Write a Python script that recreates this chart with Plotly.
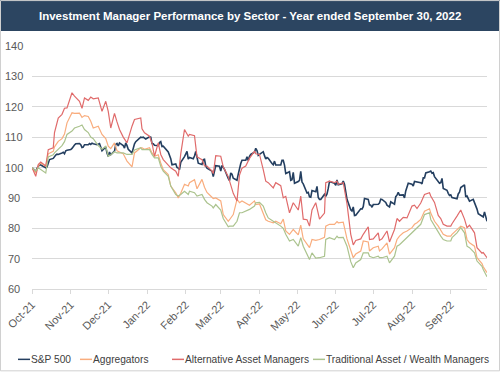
import plotly.graph_objects as go

title_text = "Investment Manager Performance by Sector - Year ended September 30, 2022"
series_names = ["S&P 500", "Aggregators", "Alternative Asset Managers", "Traditional Asset / Wealth Managers"]
series_colors = ["#243F60", "#F9AD7E", "#E06B6B", "#ABC38E"]
y_ticks = [60, 70, 80, 90, 100, 110, 120, 130, 140]

sp_dates = [
    "2021-10-01","2021-10-04","2021-10-05","2021-10-06","2021-10-07","2021-10-08","2021-10-11","2021-10-12","2021-10-13","2021-10-14",
    "2021-10-15","2021-10-18","2021-10-19","2021-10-20","2021-10-21","2021-10-22","2021-10-25","2021-10-26","2021-10-27","2021-10-28",
    "2021-10-29","2021-11-01","2021-11-02","2021-11-03","2021-11-04","2021-11-05","2021-11-08","2021-11-09","2021-11-10","2021-11-11",
    "2021-11-12","2021-11-15","2021-11-16","2021-11-17","2021-11-18","2021-11-19","2021-11-22","2021-11-23","2021-11-24","2021-11-26",
    "2021-11-29","2021-11-30","2021-12-01","2021-12-02","2021-12-03","2021-12-06","2021-12-07","2021-12-08","2021-12-09","2021-12-10",
    "2021-12-13","2021-12-14","2021-12-15","2021-12-16","2021-12-17","2021-12-20","2021-12-21","2021-12-22","2021-12-23","2021-12-27",
    "2021-12-28","2021-12-29","2021-12-30","2021-12-31","2022-01-03","2022-01-04","2022-01-05","2022-01-06","2022-01-07","2022-01-10",
    "2022-01-11","2022-01-12","2022-01-13","2022-01-14","2022-01-18","2022-01-19","2022-01-20","2022-01-21","2022-01-24","2022-01-25",
    "2022-01-26","2022-01-27","2022-01-28","2022-01-31","2022-02-01","2022-02-02","2022-02-03","2022-02-04","2022-02-07","2022-02-08",
    "2022-02-09","2022-02-10","2022-02-11","2022-02-14","2022-02-15","2022-02-16","2022-02-17","2022-02-18","2022-02-22","2022-02-23",
    "2022-02-24","2022-02-25","2022-02-28","2022-03-01","2022-03-02","2022-03-03","2022-03-04","2022-03-07","2022-03-08","2022-03-09",
    "2022-03-10","2022-03-11","2022-03-14","2022-03-15","2022-03-16","2022-03-17","2022-03-18","2022-03-21","2022-03-22","2022-03-23",
    "2022-03-24","2022-03-25","2022-03-28","2022-03-29","2022-03-30","2022-03-31","2022-04-01","2022-04-04","2022-04-05","2022-04-06",
    "2022-04-07","2022-04-08","2022-04-11","2022-04-12","2022-04-13","2022-04-14","2022-04-18","2022-04-19","2022-04-20","2022-04-21",
    "2022-04-22","2022-04-25","2022-04-26","2022-04-27","2022-04-28","2022-04-29","2022-05-02","2022-05-03","2022-05-04","2022-05-05",
    "2022-05-06","2022-05-09","2022-05-10","2022-05-11","2022-05-12","2022-05-13","2022-05-16","2022-05-17","2022-05-18","2022-05-19",
    "2022-05-20","2022-05-23","2022-05-24","2022-05-25","2022-05-26","2022-05-27","2022-05-31","2022-06-01","2022-06-02","2022-06-03",
    "2022-06-06","2022-06-07","2022-06-08","2022-06-09","2022-06-10","2022-06-13","2022-06-14","2022-06-15","2022-06-16","2022-06-17",
    "2022-06-21","2022-06-22","2022-06-23","2022-06-24","2022-06-27","2022-06-28","2022-06-29","2022-06-30","2022-07-01","2022-07-05",
    "2022-07-06","2022-07-07","2022-07-08","2022-07-11","2022-07-12","2022-07-13","2022-07-14","2022-07-15","2022-07-18","2022-07-19",
    "2022-07-20","2022-07-21","2022-07-22","2022-07-25","2022-07-26","2022-07-27","2022-07-28","2022-07-29","2022-08-01","2022-08-02",
    "2022-08-03","2022-08-04","2022-08-05","2022-08-08","2022-08-09","2022-08-10","2022-08-11","2022-08-12","2022-08-15","2022-08-16",
    "2022-08-17","2022-08-18","2022-08-19","2022-08-22","2022-08-23","2022-08-24","2022-08-25","2022-08-26","2022-08-29","2022-08-30",
    "2022-08-31","2022-09-01","2022-09-02","2022-09-06","2022-09-07","2022-09-08","2022-09-09","2022-09-12","2022-09-13","2022-09-14",
    "2022-09-15","2022-09-16","2022-09-19","2022-09-20","2022-09-21","2022-09-22","2022-09-23","2022-09-26","2022-09-27","2022-09-28",
    "2022-09-29","2022-09-30",
]
sp500 = [
    100.0, 98.7, 99.7, 100.2, 101.0, 100.8, 100.1, 99.9, 100.2, 101.9,
    102.6, 103.0, 103.7, 104.1, 104.4, 104.3, 104.8, 105.0, 104.5, 105.5,
    105.7, 105.9, 106.3, 107.0, 107.4, 107.8, 107.9, 107.5, 106.6, 106.7,
    107.5, 107.5, 107.9, 107.6, 108.0, 107.8, 107.5, 107.7, 107.9, 105.5,
    106.8, 104.8, 103.6, 105.1, 104.2, 105.4, 107.6, 107.9, 107.1, 108.1,
    107.2, 106.4, 108.1, 107.2, 106.0, 104.8, 106.7, 107.8, 108.5, 110.0,
    109.9, 110.0, 109.7, 109.4, 110.1, 110.0, 107.9, 107.8, 107.3, 107.2,
    108.2, 108.5, 106.9, 107.0, 105.1, 104.0, 102.9, 100.9, 101.2, 100.0,
    99.8, 99.3, 101.7, 103.6, 104.3, 105.3, 102.8, 103.3, 102.9, 103.8,
    105.3, 103.4, 101.4, 101.0, 102.6, 102.7, 100.5, 99.8, 98.8, 97.0,
    98.4, 100.6, 100.4, 98.8, 100.7, 100.1, 99.4, 96.4, 95.7, 98.2,
    97.8, 96.5, 95.8, 97.8, 100.0, 101.3, 102.4, 102.4, 103.5, 102.3,
    103.7, 104.3, 105.0, 106.3, 105.6, 104.0, 104.3, 105.2, 103.9, 102.8,
    103.3, 103.0, 101.3, 100.9, 102.1, 100.8, 100.8, 102.4, 102.4, 100.8,
    98.0, 98.6, 95.8, 96.0, 98.4, 94.8, 95.4, 95.8, 98.7, 95.2,
    94.6, 91.6, 91.8, 90.3, 90.2, 92.4, 92.0, 93.8, 90.1, 89.5,
    89.5, 91.2, 90.5, 91.3, 93.1, 95.4, 94.8, 94.1, 95.9, 94.3,
    94.6, 95.5, 94.5, 92.2, 89.5, 86.1, 85.7, 87.0, 84.2, 84.3,
    86.4, 86.3, 87.1, 89.8, 89.5, 87.7, 87.6, 86.9, 87.8, 87.9,
    88.3, 89.6, 89.5, 88.5, 87.6, 87.3, 87.0, 88.7, 87.9, 90.4,
    90.9, 91.8, 90.9, 91.0, 90.0, 92.3, 93.5, 94.8, 94.5, 93.9,
    95.4, 95.3, 95.1, 95.0, 94.6, 96.6, 96.6, 98.2, 98.6, 98.8,
    98.1, 98.3, 97.0, 95.0, 94.8, 95.0, 96.4, 93.1, 92.5, 91.5,
    90.8, 91.0, 90.1, 89.7, 91.3, 91.9, 93.4, 94.3, 90.3, 90.6,
    89.5, 88.9, 89.5, 88.5, 87.0, 86.3, 84.8, 83.9, 83.7, 85.4,
    83.6, 82.3,
]

sector_dates = [
    "2021-10-01","2021-10-04","2021-10-06","2021-10-08","2021-10-12","2021-10-14","2021-10-18","2021-10-19","2021-10-22","2021-10-25",
    "2021-10-27","2021-10-29","2021-11-02","2021-11-04","2021-11-08","2021-11-10","2021-11-12","2021-11-15","2021-11-17","2021-11-19",
    "2021-11-23","2021-11-26","2021-11-29","2021-12-01","2021-12-03","2021-12-06","2021-12-08","2021-12-10","2021-12-13","2021-12-16",
    "2021-12-20","2021-12-22","2021-12-27","2021-12-28","2021-12-30","2022-01-03","2022-01-05","2022-01-07","2022-01-10","2022-01-12",
    "2022-01-14","2022-01-18","2022-01-20","2022-01-24","2022-01-26","2022-01-28","2022-01-31","2022-02-03","2022-02-04","2022-02-08",
    "2022-02-10","2022-02-14","2022-02-16","2022-02-18","2022-02-22","2022-02-23","2022-02-25","2022-03-01","2022-03-03","2022-03-07",
    "2022-03-08","2022-03-11","2022-03-14","2022-03-16","2022-03-18","2022-03-21","2022-03-24","2022-03-28","2022-03-29","2022-04-01",
    "2022-04-04","2022-04-06","2022-04-08","2022-04-12","2022-04-14","2022-04-18","2022-04-20","2022-04-22","2022-04-25","2022-04-28",
    "2022-05-02","2022-05-04","2022-05-06","2022-05-09","2022-05-11","2022-05-13","2022-05-16","2022-05-19","2022-05-23","2022-05-24",
    "2022-05-27","2022-05-31","2022-06-02","2022-06-03","2022-06-07","2022-06-10","2022-06-13","2022-06-15","2022-06-17","2022-06-21",
    "2022-06-23","2022-06-27","2022-06-28","2022-07-01","2022-07-05","2022-07-06","2022-07-08","2022-07-12","2022-07-14","2022-07-18",
    "2022-07-20","2022-07-22","2022-07-25","2022-07-28","2022-08-01","2022-08-03","2022-08-05","2022-08-08","2022-08-11","2022-08-15",
    "2022-08-16","2022-08-19","2022-08-22","2022-08-24","2022-08-26","2022-08-29","2022-09-01","2022-09-02","2022-09-06","2022-09-09",
    "2022-09-12","2022-09-14","2022-09-16","2022-09-20","2022-09-22","2022-09-26","2022-09-27","2022-09-30",
]
aggregators = [
    100.0, 98.2, 100.5, 101.5, 100.4, 104.5, 105.3, 106.8, 108.6, 109.5,
    111.0, 114.7, 118.0, 117.8, 117.9, 116.5, 117.1, 116.8, 115.2, 113.0,
    113.6, 110.9, 109.5, 107.0, 106.2, 108.1, 105.5, 105.0, 104.5, 102.1,
    100.2, 104.8, 106.5, 106.5, 106.0, 106.5, 104.8, 103.7, 104.2, 101.5,
    99.3, 97.7, 93.9, 91.7, 90.0, 91.5, 94.5, 93.9, 95.0, 96.0,
    93.0, 96.1, 93.5, 91.8, 90.0, 89.8, 90.0, 89.0, 84.5, 82.3,
    82.8, 84.5, 89.5, 88.4, 89.0, 88.4, 87.6, 89.0, 87.8, 88.0,
    84.5, 82.8, 82.3, 81.8, 82.3, 81.5, 83.0, 79.1, 78.0, 79.6,
    77.8, 81.0, 76.5, 74.5, 73.6, 76.3, 76.0, 76.3, 77.0, 80.7,
    81.3, 81.3, 82.2, 81.8, 82.0, 76.5, 72.5, 70.3, 71.5, 72.5,
    75.8, 75.5, 72.5, 73.6, 74.1, 72.5, 73.2, 75.2, 71.5, 73.6,
    76.3, 77.4, 78.5, 79.1, 80.2, 81.3, 81.8, 82.9, 85.6, 86.4,
    85.0, 82.3, 80.7, 79.1, 78.0, 77.4, 77.4, 78.0, 79.6, 80.7,
    80.2, 76.3, 75.2, 74.1, 70.3, 68.4, 67.3, 65.4,
]
alternative = [
    100.0, 97.1, 101.0, 101.8, 100.5, 105.9, 106.5, 111.5, 116.3, 117.5,
    119.5, 119.6, 124.6, 123.5, 121.8, 119.5, 122.9, 122.1, 123.2, 122.6,
    122.9, 118.5, 121.8, 118.5, 113.0, 117.8, 115.0, 112.5, 110.0, 108.1,
    113.6, 115.8, 116.3, 112.7, 111.4, 110.3, 108.0, 103.7, 108.1, 104.3,
    102.6, 101.0, 99.9, 98.8, 97.1, 104.5, 112.5, 110.3, 110.9, 110.5,
    103.5, 102.6, 100.5, 100.5, 98.8, 98.0, 103.9, 103.7, 100.2, 97.0,
    95.5, 91.5, 89.0, 97.5, 99.8, 100.5, 103.0, 105.4, 104.5, 104.3,
    99.3, 95.5, 95.0, 93.3, 95.0, 94.0, 90.0, 90.5, 85.1, 88.4,
    86.0, 90.6, 83.0, 82.8, 80.7, 86.0, 88.4, 83.0, 85.0, 95.0,
    95.5, 95.0, 95.5, 94.5, 95.0, 88.0, 78.0, 74.5, 76.0, 76.5,
    78.0, 80.5, 76.3, 76.5, 78.5, 76.0, 76.5, 79.1, 75.5, 79.6,
    83.2, 82.3, 83.6, 83.4, 87.3, 87.6, 86.5, 88.3, 91.1, 91.7,
    90.6, 88.5, 84.2, 83.2, 81.3, 80.7, 80.7, 81.5, 84.0, 86.0,
    83.0, 80.2, 81.0, 78.5, 73.6, 71.8, 72.0, 70.3,
]
traditional = [
    100.0, 98.8, 99.9, 99.3, 98.2, 103.5, 104.2, 104.8, 106.0, 107.2,
    108.5, 110.9, 112.0, 113.0, 113.6, 114.0, 112.5, 111.5, 110.0, 109.5,
    107.2, 106.0, 107.0, 103.7, 104.2, 105.2, 104.8, 104.8, 104.8, 104.3,
    104.3, 105.8, 106.5, 105.9, 105.9, 105.9, 104.3, 103.2, 103.2, 100.4,
    98.8, 97.1, 93.9, 91.1, 90.6, 91.1, 92.2, 91.1, 92.2, 91.7,
    90.6, 91.1, 89.5, 88.4, 87.3, 86.7, 87.8, 86.0, 83.2, 80.5,
    80.7, 80.7, 82.3, 85.1, 85.1, 85.6, 86.2, 87.3, 88.4, 88.5,
    87.3, 85.1, 83.4, 82.3, 81.8, 80.7, 80.0, 78.0, 75.8, 76.3,
    74.1, 76.9, 74.1, 71.4, 69.7, 71.9, 70.2, 70.3, 70.8, 76.3,
    76.9, 76.3, 77.4, 76.9, 77.0, 74.1, 69.0, 67.0, 68.6, 69.7,
    71.9, 71.9, 70.8, 70.3, 70.8, 70.3, 70.3, 70.8, 68.6, 70.8,
    74.1, 74.6, 75.8, 76.9, 78.5, 79.1, 80.2, 81.3, 84.5, 85.1,
    82.9, 80.7, 78.5, 77.4, 76.3, 75.8, 75.8, 76.9, 78.5, 80.2,
    78.5, 74.1, 73.6, 71.9, 69.2, 67.5, 66.4, 64.0,
]

FONT = "Liberation Sans, Arial, sans-serif"
W, H = 500, 372
ML, MR, MT, MB = 32, 13, 46, 82.5
PW, PH = W - ML - MR, H - MT - MB

def px_x(p):
    return (p - ML) / PW

def px_y(p):
    return (H - MB - p) / PH

fig = go.Figure()
series = [
    (sp_dates, sp500, 1.6),
    (sector_dates, aggregators, 1.2),
    (sector_dates, alternative, 1.2),
    (sector_dates, traditional, 1.2),
]
for (xs, ys, lw), name, color in zip(series, series_names, series_colors):
    fig.add_trace(go.Scatter(x=xs, y=ys, mode="lines", name=name,
                             line=dict(color=color, width=lw), showlegend=False))

shapes = [
    dict(type="rect", xref="paper", yref="paper", x0=px_x(-2), x1=px_x(W + 2),
         y0=px_y(31), y1=px_y(-2), fillcolor="#2C4561", line=dict(width=0), layer="above"),
    dict(type="rect", xref="paper", yref="paper", x0=px_x(0.5), x1=px_x(W - 0.5),
         y0=px_y(H - 0.5), y1=px_y(0.5), fillcolor="rgba(0,0,0,0)",
         line=dict(color="#D0D0D0", width=1), layer="above"),
]

annotations = [
    dict(text="<b>" + title_text + "</b>", xref="paper", yref="paper",
         x=px_x(250), y=px_y(16), xanchor="center", yanchor="middle", showarrow=False,
         font=dict(family=FONT, size=11.5, color="white")),
]
for v in y_ticks:
    annotations.append(dict(text=str(v), xref="paper", yref="y", x=px_x(14), y=v,
                            xanchor="center", yanchor="middle", showarrow=False,
                            font=dict(family=FONT, size=11, color="#595959")))

# manual legend: short line swatch + label, laid out left to right
legend_x = [18, 80, 172, 313]
for lx, name, color in zip(legend_x, series_names, series_colors):
    shapes.append(dict(type="line", xref="paper", yref="paper",
                       x0=px_x(lx), x1=px_x(lx + 12), y0=px_y(360), y1=px_y(360),
                       line=dict(color=color, width=1.5), layer="above"))
    annotations.append(dict(text=name, xref="paper", yref="paper", x=px_x(lx + 12), y=px_y(360),
                            xanchor="left", yanchor="middle", showarrow=False,
                            borderpad=0, font=dict(family=FONT, size=10.2, color="#404040")))

fig.update_layout(
    width=W, height=H,
    margin=dict(l=ML, r=MR, t=MT, b=MB, pad=0, autoexpand=False),
    paper_bgcolor="white", plot_bgcolor="white",
    shapes=shapes, annotations=annotations,
    showlegend=False,
    xaxis=dict(type="date", range=["2021-10-01", "2022-09-30"], automargin=False,
               tickmode="linear", tick0="2021-10-01", dtick="M1", tickformat="%b-%y",
               tickangle=-45, ticks="outside", ticklen=4, tickcolor="#D9D9D9",
               showline=True, linecolor="#D9D9D9", linewidth=1, showgrid=False,
               tickfont=dict(family=FONT, size=11, color="#595959"), fixedrange=True),
    yaxis=dict(range=[60, 140], tickmode="array", tickvals=y_ticks[:-1], automargin=False,
               showticklabels=False, showgrid=True, gridcolor="#D9D9D9", gridwidth=1,
               zeroline=False, showline=False, ticks="", fixedrange=True),
)

fig.write_html("out.html", config={"displayModeBar": False},
               post_script="document.body.style.margin='0';document.body.style.overflow='hidden';")
